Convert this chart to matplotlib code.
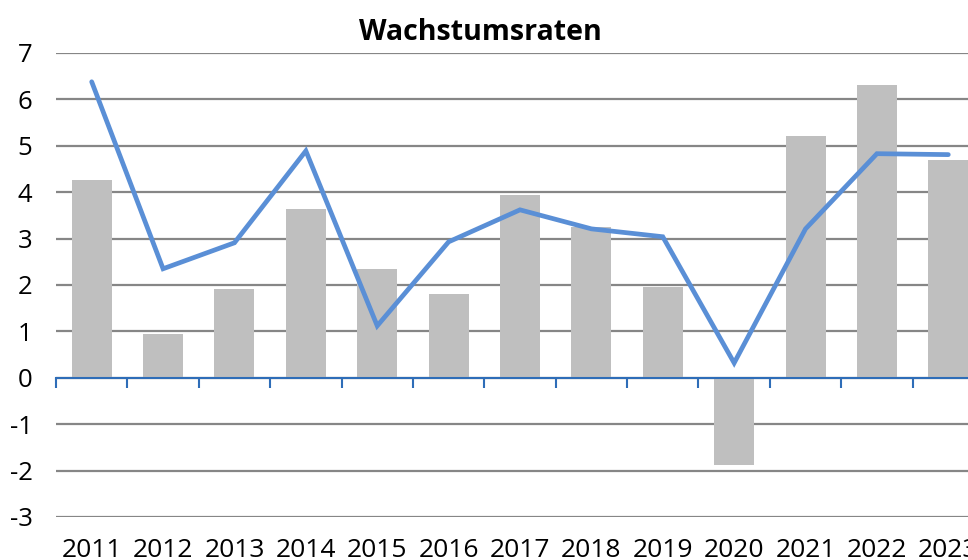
import numpy as np
import matplotlib.pyplot as plt

years = ['2011', '2012', '2013', '2014', '2015', '2016', '2017',
         '2018', '2019', '2020', '2021', '2022', '2023']
bars = [4.27, 0.95, 1.92, 3.64, 2.35, 1.81, 3.94, 3.25, 1.96, -1.88, 5.22, 6.31, 4.70]
line = [6.38, 2.35, 2.91, 4.89, 1.12, 2.93, 3.62, 3.21, 3.04, 0.32, 3.21, 4.83, 4.81]

plt.rcParams['font.family'] = ['Open Sans', 'DejaVu Sans']
plt.rcParams['axes.unicode_minus'] = False

fig = plt.figure(figsize=(9.68, 5.6), dpi=100)
ax = fig.add_axes([56 / 968, 43 / 560, 928 / 968, 464 / 560])

x = np.arange(len(years))
ax.bar(x, bars, width=0.56, color='#BFBFBF', zorder=2)
ax.plot(x, line, color='#5A8FD6', lw=3.4, solid_capstyle='round',
        solid_joinstyle='miter', zorder=3)

ax.set_xlim(-0.5, len(years) - 0.5)
ax.set_ylim(-3, 7)
ax.set_yticks(range(-3, 8))
ax.yaxis.grid(True, color='#868686', lw=1.6, zorder=0)
ax.tick_params(axis='y', length=0, pad=17, labelsize=18.5)

for s in ['left', 'right', 'top']:
    ax.spines[s].set_visible(False)
ax.spines['bottom'].set_position(('data', 0))
ax.spines['bottom'].set_color('#2E6DB8')
ax.spines['bottom'].set_linewidth(1.5)
ax.spines['bottom'].set_zorder(4)
ax.set_xticks(np.arange(-0.5, len(years), 1.0))
ax.tick_params(axis='x', direction='out', length=7, width=1.5,
               color='#2E6DB8', labelbottom=False)

sec = ax.secondary_xaxis('bottom')
sec.set_xticks(x)
sec.set_xticklabels(years)
sec.tick_params(length=0, pad=15, labelsize=19)
sec.spines['bottom'].set_visible(False)

fig.text(480 / 968, 528 / 560, 'Wachstumsraten', ha='center', va='center',
         fontsize=20.5, fontweight='bold')

fig.savefig('out.png', dpi=100)
